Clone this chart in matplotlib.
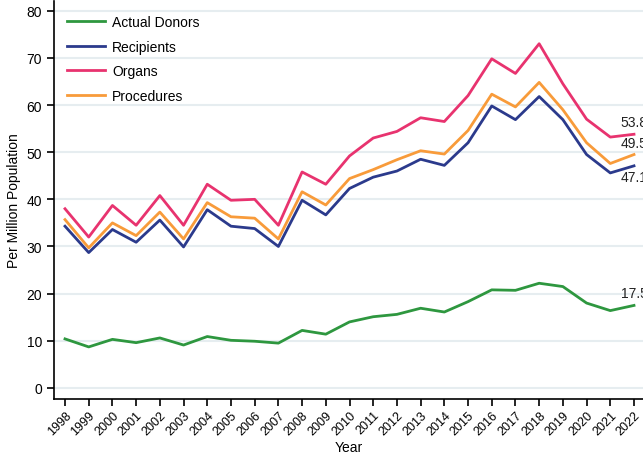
import matplotlib.pyplot as plt

plt.rcParams['font.family'] = ['Liberation Sans', 'DejaVu Sans']

years = list(range(1998, 2023))

donors = [10.4, 8.7, 10.3, 9.6, 10.6, 9.1, 10.9, 10.1, 9.9, 9.5, 12.2, 11.4, 14.0,
          15.1, 15.6, 16.9, 16.1, 18.3, 20.8, 20.7, 22.2, 21.5, 18.0, 16.4, 17.5]
recipients = [34.3, 28.7, 33.6, 30.9, 35.6, 29.9, 37.8, 34.3, 33.8, 30.0, 39.8, 36.7, 42.3,
              44.7, 46.0, 48.5, 47.2, 52.0, 59.8, 56.9, 61.8, 56.9, 49.5, 45.6, 47.1]
organs = [38.0, 32.0, 38.7, 34.5, 40.8, 34.5, 43.2, 39.8, 40.0, 34.5, 45.8, 43.2, 49.2,
          53.0, 54.4, 57.3, 56.5, 62.0, 69.8, 66.7, 73.0, 64.5, 57.0, 53.2, 53.8]
procedures = [35.7, 29.7, 35.0, 32.3, 37.3, 31.6, 39.3, 36.3, 36.0, 31.6, 41.6, 38.8, 44.4,
              46.3, 48.4, 50.3, 49.6, 54.6, 62.3, 59.6, 64.8, 59.0, 52.0, 47.6, 49.5]

fig = plt.figure(figsize=(6.43, 4.56), dpi=100)
ax = fig.add_axes([0.084, 0.123, 0.916, 0.873])

series = [
    ('Actual Donors', donors, '#2e973f', 12),
    ('Recipients', recipients, '#2b3a8c', -11),
    ('Organs', organs, '#e8336f', 12),
    ('Procedures', procedures, '#f89b3a', 12),
]

for name, vals, col, off in series:
    ax.plot(years, vals, color=col, lw=2, label=name)
    # end-of-line value label (cut by the figure edge, as in the source)
    ax.annotate(f'{vals[-1]:.1f}', (years[-1], vals[-1]), xytext=(0, off),
                textcoords='offset pixels', ha='center', va='center',
                fontsize=10, color='#222222', annotation_clip=False)

ax.set_xlim(1997.536, 2022.38)
ax.set_ylim(-2.33, 82.1)
ax.set_yticks(range(0, 81, 10))
ax.set_xticks(years)
ax.set_xticklabels([str(y) for y in years], rotation=45, ha='right',
                   rotation_mode='anchor', fontsize=9)
ax.tick_params(axis='y', labelsize=10, length=5, width=1.2)
ax.tick_params(axis='x', length=5, width=1.2, pad=2)

ax.grid(axis='y', color='#e6edf0', lw=1.5)
ax.set_axisbelow(True)
for s in ['top', 'right']:
    ax.spines[s].set_visible(False)
for s in ['left', 'bottom']:
    ax.spines[s].set_linewidth(1.2)

ax.set_xlabel('Year', fontsize=10, labelpad=2)
ax.set_ylabel('Per Million Population', fontsize=10)

ax.legend(loc='upper left', frameon=False, fontsize=10, handlelength=2.8,
          handletextpad=0.5, labelspacing=0.75, bbox_to_anchor=(0.0, 0.995))

fig.savefig('out.png', dpi=100)
